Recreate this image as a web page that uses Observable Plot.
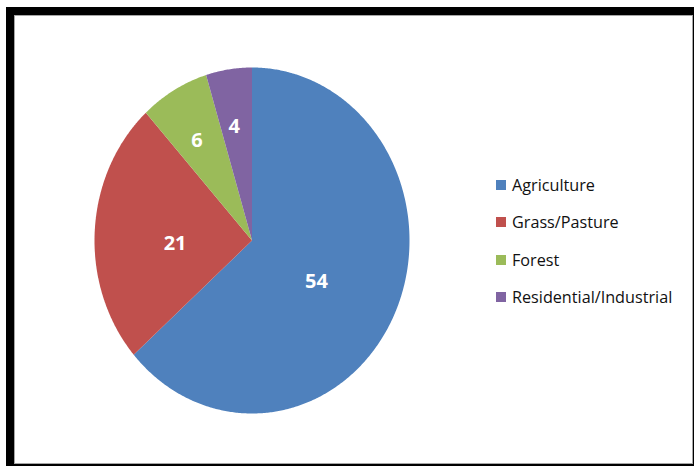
<!DOCTYPE html>
<html>
<head>
<meta charset="utf-8">
<script src="https://cdn.jsdelivr.net/npm/d3@7"></script>
<script src="https://cdn.jsdelivr.net/npm/@observablehq/plot@0.6"></script>
<style>
  html, body { margin: 0; padding: 0; background: #fff; }
  #wrap { position: relative; width: 694px; height: 466px; overflow: hidden; }
  #blk { position: absolute; left: 6px; top: 7px; width: 700px; height: 459px; background: #000; }
  #inner { position: absolute; left: 14px; top: 15px; width: 677px; height: 447px; border: 1px solid #a6a6a6; background: #fff; }
  #chart { position: absolute; left: 0; top: 0; }
  #legend { position: absolute; left: 496px; top: 175px; font-family: "Open Sans", sans-serif; font-size: 16.2px; color: #111; }
  .item { position: absolute; left: 0; height: 20px; white-space: nowrap; display: flex; align-items: center; }
  .sw { width: 10px; height: 10px; margin-right: 6px; }
</style>
</head>
<body>
<div id="wrap">
  <div id="blk"></div>
  <div id="inner"></div>
  <div id="chart"></div>
  <div id="legend"></div>
</div>
<script>
const categories = ["Agriculture", "Grass/Pasture", "Forest", "Residential/Industrial"];
const values = [54, 21, 6, 4];
const colors = ["#4F81BD", "#C0504D", "#9BBB59", "#8064A2"];

const total = d3.sum(values);
// slice geometry (angles clockwise from 12 o'clock)
const slices = [];
let acc = 0;
categories.forEach((c, i) => {
  const a0 = acc / total * 2 * Math.PI;
  acc += values[i];
  const a1 = acc / total * 2 * Math.PI;
  slices.push({cat: c, value: values[i], a0, a1});
});
const pts = [];
for (const s of slices) {
  pts.push({cat: s.cat, x: 0, y: 0});
  const n = Math.max(2, Math.ceil((s.a1 - s.a0) / (Math.PI / 360)));
  for (let k = 0; k <= n; k++) {
    const a = s.a0 + (s.a1 - s.a0) * k / n;
    pts.push({cat: s.cat, x: Math.sin(a), y: Math.cos(a)});
  }
}
const labels = slices.map(s => {
  const m = (s.a0 + s.a1) / 2;
  const big = s.value / total > 0.15;
  const r = big ? 0.47 : 0.68;
  return {cat: s.cat, value: s.value, big, x: r * Math.sin(m), y: r * Math.cos(m)};
});
const textStyle = {x: "x", y: "y", text: d => String(d.value), fill: "white",
  fontSize: 20, fontWeight: "bold", fontFamily: "Open Sans, sans-serif"};

const plot = Plot.plot({
  width: 694,
  height: 466,
  margin: 0,
  style: {background: "transparent", overflow: "visible"},
  x: {domain: [-1, 1], range: [94, 409], axis: null},
  y: {domain: [-1, 1], range: [413, 67], axis: null},
  color: {domain: categories, range: colors},
  marks: [
    Plot.line(pts, {x: "x", y: "y", z: "cat", fill: "cat", stroke: null, curve: "linear-closed"}),
    Plot.text(labels.filter(d => d.big), {...textStyle, dx: -3, dy: 8}),
    Plot.text(labels.filter(d => !d.big), {...textStyle, dx: -2, dy: 2})
  ]
});
document.getElementById("chart").appendChild(plot);

const leg = document.getElementById("legend");
categories.forEach((c, i) => {
  const it = document.createElement("div");
  it.className = "item";
  it.style.top = (i * 37.3) + "px";
  const sw = document.createElement("span");
  sw.className = "sw";
  sw.style.background = colors[i];
  const t = document.createElement("span");
  t.textContent = c;
  it.appendChild(sw);
  it.appendChild(t);
  leg.appendChild(it);
});
</script>
</body>
</html>
